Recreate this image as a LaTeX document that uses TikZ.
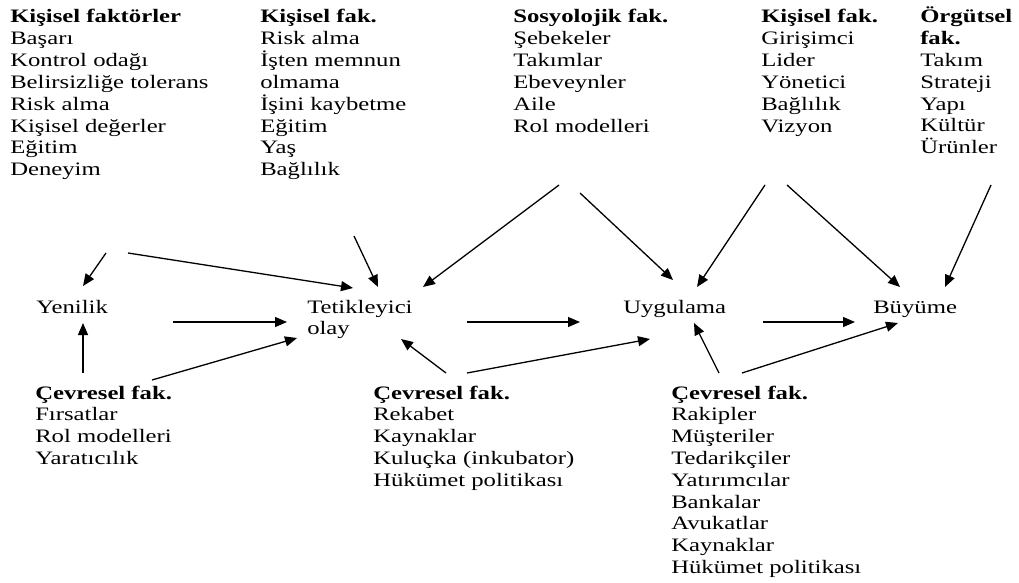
\documentclass[tikz,border=0pt]{standalone}
\usepackage{fontspec}
\setmainfont{Liberation Serif}
\usetikzlibrary{arrows.meta}

\tikzset{
    txt/.style={anchor=base west, align=left, inner sep=0pt, xscale=1.3,
        font=\fontsize{19}{21.8}\selectfont},
    arr/.style={-{Triangle[length=12pt,width=10pt]}, line width=1.3pt},
}

\begin{document}
\begin{tikzpicture}[x=1pt, y=-1pt]
    \useasboundingbox (0,0) rectangle (1019,583);

    % factor lists on top (placed at the baseline of their last line)
    \node[txt] (kis1) at (10,175.6) {\textbf{Kişisel faktörler}\\Başarı\\Kontrol odağı\\Belirsizliğe tolerans\\Risk alma\\Kişisel değerler\\Eğitim\\Deneyim};
    \node[txt] (kis2) at (260,175.6) {\textbf{Kişisel fak.}\\Risk alma\\İşten memnun\\olmama\\İşini kaybetme\\Eğitim\\Yaş\\Bağlılık};
    \node[txt] (sos) at (513,132) {\textbf{Sosyolojik fak.}\\Şebekeler\\Takımlar\\Ebeveynler\\Aile\\Rol modelleri};
    \node[txt] (kis3) at (761,132) {\textbf{Kişisel fak.}\\Girişimci\\Lider\\Yönetici\\Bağlılık\\Vizyon};
    \node[txt] (org) at (920,153.8) {\textbf{Örgütsel}\\\textbf{fak.}\\Takım\\Strateji\\Yapı\\Kültür\\Ürünler};

    % process steps
    \node[txt] (yen) at (36,313) {Yenilik};
    \node[txt] (tet) at (307,334.8) {Tetikleyici\\olay};
    \node[txt] (uyg) at (623,313) {Uygulama};
    \node[txt] (buy) at (873,313) {Büyüme};

    % environmental factors
    \node[txt] (cev1) at (35,464.4) {\textbf{Çevresel fak.}\\Fırsatlar\\Rol modelleri\\Yaratıcılık};
    \node[txt] (cev2) at (373,486.2) {\textbf{Çevresel fak.}\\Rekabet\\Kaynaklar\\Kuluçka (inkubator)\\Hükümet politikası};
    \node[txt] (cev3) at (671,573.4) {\textbf{Çevresel fak.}\\Rakipler\\Müşteriler\\Tedarikçiler\\Yatırımcılar\\Bankalar\\Avukatlar\\Kaynaklar\\Hükümet politikası};

    % arrow ends
    \coordinate (kis1a) at (106,253);
    \coordinate (kis1b) at (128,253);
    \coordinate (kis2a) at (354,236);
    \coordinate (sosa) at (559,185);
    \coordinate (sosb) at (580,193);
    \coordinate (kis3a) at (765,185);
    \coordinate (kis3b) at (787,185);
    \coordinate (orga) at (991,185);
    \coordinate (cev1a) at (83,373);
    \coordinate (cev1b) at (152,380);
    \coordinate (cev2a) at (446,373);
    \coordinate (cev2b) at (467,373);
    \coordinate (cev3a) at (719,373);
    \coordinate (cev3b) at (742,373);

    \coordinate (yenN) at (83,286);
    \coordinate (yenS) at (83,323);
    \coordinate (yenE) at (173,322);
    \coordinate (tetW) at (287,322);
    \coordinate (tetSW) at (297,338);
    \coordinate (tetNW) at (353,288);
    \coordinate (tetN) at (378,287);
    \coordinate (tetNE) at (423,287);
    \coordinate (tetS) at (401,339);
    \coordinate (tetE) at (467,322);
    \coordinate (uygW) at (580,322);
    \coordinate (uygSW) at (650,339);
    \coordinate (uygNW) at (673,280);
    \coordinate (uygNE) at (697,287);
    \coordinate (uygS) at (694,323);
    \coordinate (uygE) at (763,322);
    \coordinate (buyW) at (855,322);
    \coordinate (buySW) at (898,323);
    \coordinate (buyNW) at (900,287);
    \coordinate (buyNE) at (945,287);

    \draw[arr] (kis1a) -- (yenN);
    \draw[arr] (kis1b) -- (tetNW);
    \draw[arr] (kis2a) -- (tetN);
    \draw[arr] (sosa) -- (tetNE);
    \draw[arr] (sosb) -- (uygNW);
    \draw[arr] (kis3a) -- (uygNE);
    \draw[arr] (kis3b) -- (buyNW);
    \draw[arr] (orga) -- (buyNE);

    \draw[arr] (yenE) -- (tetW);
    \draw[arr] (tetE) -- (uygW);
    \draw[arr] (uygE) -- (buyW);

    \draw[arr] (cev1a) -- (yenS);
    \draw[arr] (cev1b) -- (tetSW);
    \draw[arr] (cev2a) -- (tetS);
    \draw[arr] (cev2b) -- (uygSW);
    \draw[arr] (cev3a) -- (uygS);
    \draw[arr] (cev3b) -- (buySW);
\end{tikzpicture}
\end{document}
